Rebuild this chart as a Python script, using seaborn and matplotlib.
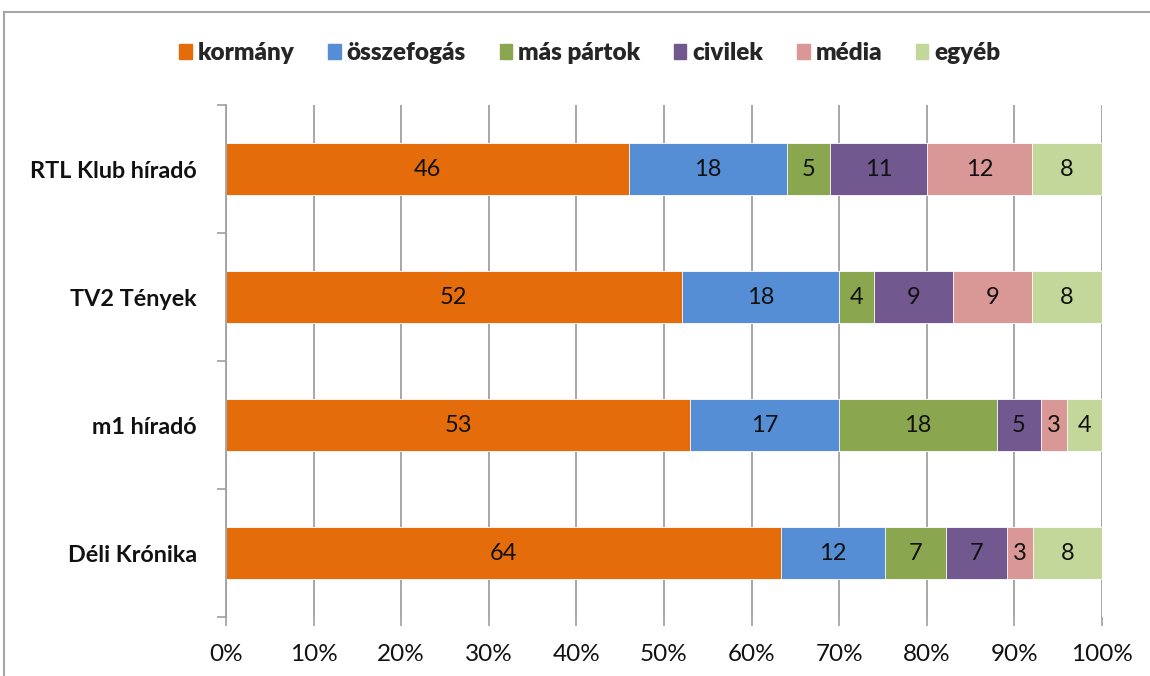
import numpy as np
import pandas as pd
import matplotlib
matplotlib.use("Agg")
import matplotlib.pyplot as plt
import seaborn as sns

categories = ["RTL Klub híradó", "TV2 Tények", "m1 híradó", "Déli Krónika"]
series_names = ["kormány", "összefogás", "más pártok", "civilek", "média", "egyéb"]
kormany = [46, 52, 53, 64]
osszefogas = [18, 18, 17, 12]
mas_partok = [5, 4, 18, 7]
civilek = [11, 9, 5, 7]
media = [12, 9, 3, 3]
egyeb = [8, 8, 4, 8]
colors = ["#E46C0A", "#558ED5", "#8AA64F", "#71588F", "#D99795", "#C4D79B"]
xtick_labels = ["0%", "10%", "20%", "30%", "40%", "50%", "60%", "70%", "80%", "90%", "100%"]

sns.set_theme(style="white")
plt.rcParams["font.family"] = ["Lato", "DejaVu Sans"]

vals = np.array([kormany, osszefogas, mas_partok, civilek, media, egyeb], dtype=float)
shares = vals / vals.sum(axis=0) * 100
cum = np.cumsum(shares, axis=0)

fig = plt.figure(figsize=(11.5, 6.76), dpi=100)
W, H = 1150, 676
ax = fig.add_axes([226 / W, 1 - 617 / H, (1102 - 226) / W, (617 - 105) / H])

# gridlines first
for i in range(11):
    ax.axvline(i * 10, color="#A0A0A0", lw=1.3, zorder=0)

for k in range(len(series_names) - 1, -1, -1):
    df = pd.DataFrame({"cat": categories, "val": cum[k]})
    sns.barplot(data=df, x="val", y="cat", orient="h", color=colors[k],
                width=0.4, saturation=1, edgecolor="white", linewidth=0.6,
                ax=ax, zorder=2)

# labels
for k in range(len(series_names)):
    for j in range(len(categories)):
        left = cum[k, j] - shares[k, j]
        ax.text(left + shares[k, j] / 2, j, f"{int(vals[k, j])}", ha="center", va="center",
                fontsize=17, color="#111111", zorder=5)

ax.set_xlim(0, 100)
ax.set_ylim(3.5, -0.5)
ax.set_xlabel("")
ax.set_ylabel("")
ax.set_xticks(np.arange(0, 101, 10))
ax.set_xticklabels(xtick_labels, fontsize=17.5, color="#111111")
ax.set_yticks(range(len(categories)))
ax.set_yticklabels(categories, fontsize=16.8, fontweight="bold", color="#111111")
ax.tick_params(axis="y", which="major", length=0, pad=21)
ax.set_yticks(np.arange(-0.5, 4.0, 1.0), minor=True)
ax.tick_params(axis="y", which="minor", length=6.5, width=1.2, color="#A0A0A0", direction="out", left=True)
ax.tick_params(axis="x", which="major", length=6.5, width=1.2, color="#A0A0A0", direction="out", bottom=True, pad=13)
for s in ["top", "right", "bottom"]:
    ax.spines[s].set_visible(False)
ax.spines["left"].set_color("#A0A0A0")
ax.spines["left"].set_linewidth(1.3)
ax.grid(False)

handles = [plt.Rectangle((0, 0), 1, 1, color=c) for c in colors]
fig.legend(handles, series_names, loc="center", bbox_to_anchor=(590 / W, 1 - 53 / H),
           ncol=6, frameon=False, handlelength=0.5, handleheight=0.62,
           handletextpad=0.25, columnspacing=1.4,
           prop={"family": ["Lato", "DejaVu Sans"], "weight": "heavy", "size": 17.5})

# outer chart border
fig.add_artist(plt.Rectangle((4 / W, -0.1), 1.2, 1 - 12 / H + 0.1, transform=fig.transFigure,
                             fill=False, edgecolor="#A6A6A6", lw=1.5))

fig.savefig("out.png", dpi=100)
